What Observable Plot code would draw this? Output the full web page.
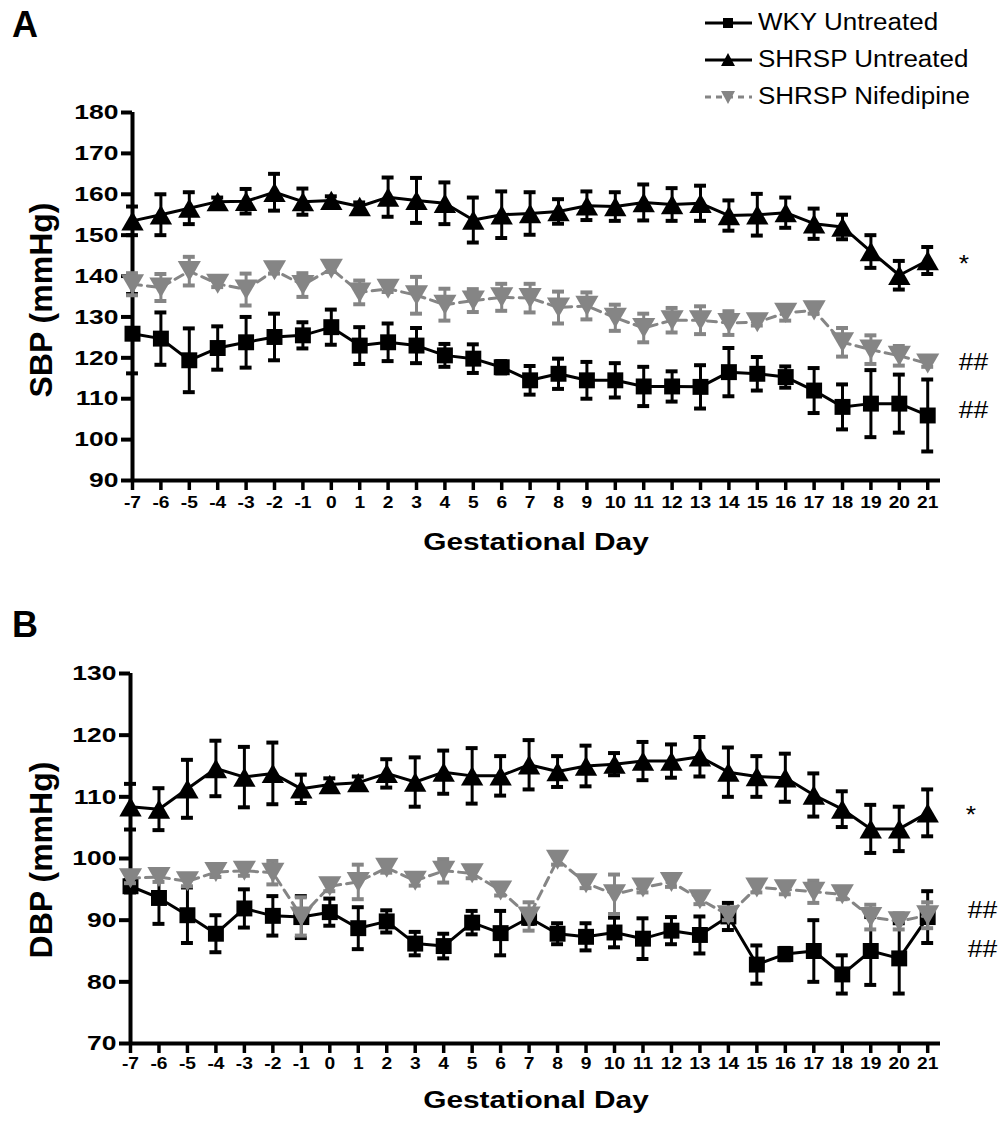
<!DOCTYPE html>
<html><head><meta charset="utf-8">
<script src="https://cdn.jsdelivr.net/npm/d3@7"></script>
<script src="https://cdn.jsdelivr.net/npm/@observablehq/plot@0.6"></script>
<style>
body{margin:0;background:#fff;}
#wrap{position:relative;width:998px;height:1127px;font-family:"Liberation Sans",Arial,sans-serif;overflow:hidden;background:#fff;}
.abs{position:absolute;white-space:nowrap;color:#000;line-height:1;}
.c{transform:translate(-50%,-50%) scaleX(1.27);}
.L{transform:translate(-50%,-50%);}
.r{transform:translate(-50%,-50%) rotate(-90deg);}
.b{font-weight:bold;}
.lg{transform-origin:0 50%;transform:scaleX(1.13);}
svg.plot{position:absolute;left:0;}
</style></head><body><div id="wrap"></div><script>
// ---------- data ----------
const days = [-7,-6,-5,-4,-3,-2,-1,0,1,2,3,4,5,6,7,8,9,10,11,12,13,14,15,16,17,18,19,20,21];
const seriesNames = ["WKY Untreated","SHRSP Untreated","SHRSP Nifedipine"];

// Panel A: systolic blood pressure (mmHg), mean and SEM
const sbpWKY    = [125.9,124.7,119.4,122.4,123.8,125.1,125.5,127.5,123.0,123.8,123.0,120.6,119.8,117.7,114.5,116.1,114.5,114.5,113.0,113.0,112.9,116.5,116.1,115.3,112.0,108.0,108.8,108.8,105.9];
const sbpWKYsem = [9.7,6.4,7.8,5.3,6.2,5.7,3.2,4.3,4.5,4.6,4.3,2.8,3.5,1.5,3.5,3.7,4.5,4.2,4.8,3.7,5.3,5.9,4.1,2.6,5.5,5.5,8.2,7.1,8.8];
const sbpSHR    = [153.5,155.0,156.6,158.2,158.3,160.5,158.2,158.5,157.0,159.3,158.5,157.8,153.7,155.0,155.3,155.8,157.2,157.0,158.0,157.5,157.8,154.8,155.0,155.5,152.8,152.0,146.0,140.2,143.8];
const sbpSHRsem = [3.5,5.0,3.9,1.0,3.0,4.5,3.2,1.0,1.0,4.8,5.5,5.1,5.5,5.7,5.2,3.0,3.5,3.5,4.4,4.0,4.3,3.7,5.1,3.7,3.7,3.0,4.0,3.5,3.3];
const sbpNIF    = [138.0,137.2,141.2,138.1,136.7,141.4,137.8,141.8,136.0,136.9,135.3,133.0,134.0,134.8,134.6,132.3,132.7,129.8,127.3,129.2,129.2,128.5,128.7,131.0,131.6,123.8,122.0,120.5,118.6];
const sbpNIFsem = [2.7,3.3,3.5,0.8,3.9,0.8,2.9,0.8,2.9,0.8,4.5,3.9,2.8,3.3,3.5,3.9,3.3,3.2,3.5,3.0,3.4,2.9,0.8,1.9,0.8,3.5,3.5,2.4,0.8];
const sbpTicks  = [90,100,110,120,130,140,150,160,170,180];
const sbpNoteLabels = ["*","##","##"];
const sbpNoteValues = [144.3,118.9,107.0];

// Panel B: diastolic blood pressure (mmHg), mean and SEM
const dbpWKY    = [95.5,93.6,90.8,87.8,91.9,90.7,90.5,91.3,88.7,89.8,86.2,85.8,89.6,87.9,90.4,87.8,87.3,88.0,87.0,88.3,87.6,90.6,82.8,84.5,85.0,81.2,85.0,83.8,90.5];
const dbpWKYsem = [1.0,4.2,4.5,3.0,3.1,3.2,3.4,2.2,3.4,1.8,1.9,2.0,1.9,3.6,1.0,1.7,2.2,2.4,3.3,2.2,3.0,2.2,3.1,1.0,5.0,3.1,5.5,5.7,4.2];
const dbpSHR    = [108.4,108.0,111.3,114.6,113.2,113.8,111.3,112.0,112.3,113.8,112.4,114.0,113.4,113.4,115.2,114.1,115.0,115.3,115.8,115.8,116.5,114.0,113.3,113.1,110.3,108.0,104.8,104.8,107.4];
const dbpSHRsem = [3.7,3.4,4.7,4.5,4.9,5.0,2.3,1.0,1.0,2.3,4.0,3.5,4.5,3.2,4.0,2.5,3.3,1.8,3.1,2.7,3.2,4.0,3.3,3.9,3.5,2.9,3.9,3.6,3.8];
const dbpNIF    = [96.8,97.0,96.3,97.8,98.0,97.7,90.6,95.5,96.2,98.5,96.4,98.0,97.6,94.8,90.6,99.8,96.0,94.2,95.3,96.2,93.4,90.8,95.3,95.0,94.6,94.2,90.5,89.8,90.8];
const dbpNIFsem = [0.8,0.8,0.8,0.8,0.8,1.9,3.1,0.8,2.8,0.8,0.8,1.9,0.8,0.8,2.3,0.8,0.8,3.2,0.8,0.8,0.8,0.8,0.8,0.8,1.8,0.8,2.0,1.3,2.1];
const dbpTicks  = [70,80,90,100,110,120,130];
const dbpNoteLabels = ["*","##","##"];
const dbpNoteValues = [107.9,91.5,85.2];

// ---------- drawing ----------
const FONT = '"Liberation Sans", Arial, sans-serif';
const GRAY = "#858585";
const triUp = {draw(ctx, size){const y=Math.sqrt(size/(Math.sqrt(3)*3)),x=Math.sqrt(3)*y;ctx.moveTo(0,-1.5*y);ctx.lineTo(x,1.5*y);ctx.lineTo(-x,1.5*y);ctx.closePath();}};
const triDown = {draw(ctx, size){const y=Math.sqrt(size/(Math.sqrt(3)*3)),x=Math.sqrt(3)*y;ctx.moveTo(0,1.5*y);ctx.lineTo(x,-1.5*y);ctx.lineTo(-x,-1.5*y);ctx.closePath();}};

function rows(mean, sem){ return days.map((d,i)=>({day:d, v:mean[i], lo:mean[i]-sem[i], hi:mean[i]+sem[i]})); }

function seriesMarks(data, color, symbol, r, dash){
  const cap = 0.21;
  return [
    Plot.line(data, {x:"day", y:"v", stroke:color, strokeWidth:3, strokeDasharray:dash}),
    Plot.ruleX(data, {x:"day", y1:"lo", y2:"hi", stroke:color, strokeWidth:3}),
    Plot.ruleY(data, {y:"hi", x1:d=>d.day-cap, x2:d=>d.day+cap, stroke:color, strokeWidth:4}),
    Plot.ruleY(data, {y:"lo", x1:d=>d.day-cap, x2:d=>d.day+cap, stroke:color, strokeWidth:4}),
    Plot.dot(data, {x:"day", y:"v", symbol, r, fill:color, stroke:"none"})
  ];
}

function stretch(svg, selector, s){
  svg.querySelectorAll(selector).forEach(el=>{
    const t = el.getAttribute("transform");
    if (t) el.setAttribute("transform", t + ` scale(${s},1)`);
    else {
      const x = +el.getAttribute("x") || 0, y = +el.getAttribute("y") || 0;
      el.removeAttribute("x"); el.removeAttribute("y");
      el.setAttribute("transform", `translate(${x},${y}) scale(${s},1)`);
    }
  });
}

function panel(o){
  const notes = o.noteLabels.map((t,i)=>({t, y:o.noteValues[i]}));
  const svg = Plot.plot({
    width: 998, height: o.height,
    marginTop: o.mTop, marginBottom: o.mBottom, marginLeft: o.mLeft, marginRight: 58,
    style: {fontFamily: FONT, background: "transparent", overflow: "visible", color: "#000"},
    x: {domain: [-7, 21.45], axis: null},
    y: {domain: o.yDomain, axis: null},
    marks: [
      Plot.axisY({ticks: o.ticks, tickSize: 11, tickPadding: 3, fontSize: 21, fontWeight: "bold", strokeWidth: 4, label: null, tickFormat: d=>String(d)}),
      Plot.axisX({ticks: days, tickSize: 10, tickPadding: o.xPad, fontSize: 16, fontWeight: "bold", strokeWidth: 3.5, label: null, tickFormat: d=>String(d)}),
      Plot.ruleX([-7], {strokeWidth: 4, stroke: "#000"}),
      Plot.ruleY([o.yDomain[0]], {strokeWidth: 4, stroke: "#000"}),
      ...seriesMarks(rows(o.wky, o.wkySem), "#000", "square", 9, null),
      ...seriesMarks(rows(o.shr, o.shrSem), "#000", triUp, 8.3, null),
      ...seriesMarks(rows(o.nif, o.nifSem), GRAY, triDown, 8.6, "9,6"),
      Plot.text(notes.filter(d=>d.t==="*"), {x: ()=>21, y:"y", text:"t", textAnchor:"start", dx: o.starDx, dy: 6, fontSize: 23, fill:"#000"}),
      Plot.text(notes.filter(d=>d.t!=="*"), {x: ()=>21, y:"y", text:"t", textAnchor:"start", dx: o.hashDx, fontSize: 23, fill:"#000"})
    ]
  });
  svg.classList.add("plot");
  svg.style.top = o.top + "px";
  stretch(svg, 'g[aria-label="y-axis tick label"] text', 1.26);
  stretch(svg, 'g[aria-label="x-axis tick label"] text', 1.2);
  stretch(svg, 'g[aria-label="text"] text', 1.15);
  return svg;
}

const wrap = document.getElementById("wrap");
wrap.appendChild(panel({top:0, height:560, mTop:112, mBottom:80, mLeft:132, yDomain:[90,180], ticks:sbpTicks, xPad:6,
  wky:sbpWKY, wkySem:sbpWKYsem, shr:sbpSHR, shrSem:sbpSHRsem, nif:sbpNIF, nifSem:sbpNIFsem,
  noteLabels:sbpNoteLabels, noteValues:sbpNoteValues, starDx:31, hashDx:31}));
wrap.appendChild(panel({top:560, height:567, mTop:113, mBottom:84, mLeft:130, yDomain:[70,130], ticks:dbpTicks, xPad:4,
  wky:dbpWKY, wkySem:dbpWKYsem, shr:dbpSHR, shrSem:dbpSHRsem, nif:dbpNIF, nifSem:dbpNIFsem,
  noteLabels:dbpNoteLabels, noteValues:dbpNoteValues, starDx:38, hashDx:40}));

// ---------- text & legend ----------
function addText(txt, x, y, cls, size){
  const d = document.createElement("div");
  d.className = "abs " + cls; d.textContent = txt;
  d.style.left = x + "px"; d.style.top = y + "px"; d.style.fontSize = size + "px";
  wrap.appendChild(d);
  return d;
}
addText("A", 25, 25, "L b", 36);
addText("B", 25, 625, "L b", 36);
addText("SBP (mmHg)", 41, 300, "r b", 32);
addText("DBP (mmHg)", 41, 860, "r b", 32);
addText("Gestational Day", 536, 543, "c b", 23.5);
addText("Gestational Day", 536, 1101, "c b", 23.5);

const legendSymbols = [
  '<rect x="23" y="-5" width="10" height="10" fill="#000"/>',
  '<path d="M28,-7 L35,6 L21,6 Z" fill="#000"/>',
  '<path d="M28,7 L35,-6 L21,-6 Z" fill="'+GRAY+'"/>'
];
const legendStroke = ["#000","#000",GRAY];
const legendDash = ["","","6,5"];
seriesNames.forEach((name,i)=>{
  const y = 23 + i*37;
  const s = document.createElementNS("http://www.w3.org/2000/svg","svg");
  s.setAttribute("width",56); s.setAttribute("height",20);
  s.setAttribute("viewBox","0 -10 56 20");
  s.style.position="absolute"; s.style.left="700px"; s.style.top=(y-10)+"px";
  s.innerHTML = '<line x1="5" x2="52" y1="0" y2="0" stroke="'+legendStroke[i]+'" stroke-width="3" stroke-dasharray="'+legendDash[i]+'"/>' + legendSymbols[i];
  wrap.appendChild(s);
  const d = document.createElement("div");
  d.className = "abs lg"; d.textContent = name;
  d.style.left = "758px"; d.style.top = (y-12)+"px"; d.style.fontSize = "23px";
  wrap.appendChild(d);
});
</script></body></html>
